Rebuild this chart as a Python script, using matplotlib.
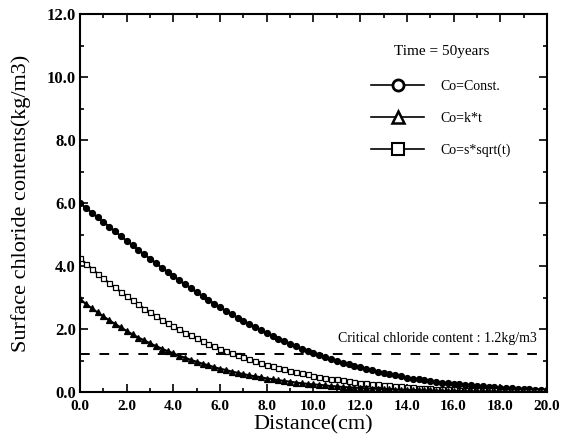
import numpy as np
import matplotlib
matplotlib.use("Agg")
import matplotlib.pyplot as plt
from matplotlib.lines import Line2D

# distance from surface [cm], 0.25 cm step
distance = np.arange(0, 81) * 0.25

# chloride content [kg/m3]
co_const = [
    6.00, 5.85, 5.70, 5.55, 5.40, 5.25, 5.10, 4.95, 4.80,
    4.66, 4.51, 4.37, 4.23, 4.09, 3.95, 3.82, 3.68, 3.55,
    3.42, 3.29, 3.17, 3.04, 2.92, 2.81, 2.69, 2.58, 2.47,
    2.36, 2.26, 2.16, 2.06, 1.97, 1.87, 1.79, 1.70, 1.62,
    1.53, 1.46, 1.38, 1.31, 1.24, 1.17, 1.11, 1.05, 0.99,
    0.93, 0.88, 0.83, 0.78, 0.73, 0.69, 0.64, 0.60, 0.57,
    0.53, 0.50, 0.46, 0.43, 0.40, 0.38, 0.35, 0.32, 0.30,
    0.28, 0.26, 0.24, 0.22, 0.21, 0.19, 0.18, 0.16, 0.15,
    0.14, 0.13, 0.12, 0.11, 0.10, 0.09, 0.08, 0.08, 0.07,
]
co_sqrt = [
    4.25, 4.08, 3.92, 3.76, 3.61, 3.46, 3.32, 3.18, 3.04,
    2.91, 2.78, 2.65, 2.53, 2.42, 2.30, 2.20, 2.09, 1.99,
    1.89, 1.80, 1.71, 1.62, 1.54, 1.46, 1.38, 1.31, 1.23,
    1.17, 1.10, 1.04, 0.98, 0.92, 0.87, 0.82, 0.77, 0.72,
    0.68, 0.64, 0.60, 0.56, 0.52, 0.49, 0.46, 0.43, 0.40,
    0.37, 0.35, 0.32, 0.30, 0.28, 0.26, 0.24, 0.22, 0.21,
    0.19, 0.18, 0.16, 0.15, 0.14, 0.13, 0.12, 0.11, 0.10,
    0.09, 0.09, 0.08, 0.07, 0.07, 0.06, 0.06, 0.05, 0.05,
    0.04, 0.04, 0.04, 0.03, 0.03, 0.03, 0.02, 0.02, 0.02,
]
co_linear = [
    2.95, 2.80, 2.66, 2.53, 2.40, 2.28, 2.16, 2.05, 1.94,
    1.83, 1.73, 1.64, 1.55, 1.46, 1.38, 1.30, 1.23, 1.15,
    1.09, 1.02, 0.96, 0.90, 0.85, 0.79, 0.74, 0.70, 0.65,
    0.61, 0.57, 0.53, 0.50, 0.47, 0.43, 0.41, 0.38, 0.35,
    0.33, 0.30, 0.28, 0.26, 0.24, 0.23, 0.21, 0.19, 0.18,
    0.16, 0.15, 0.14, 0.13, 0.12, 0.11, 0.10, 0.09, 0.09,
    0.08, 0.07, 0.07, 0.06, 0.06, 0.05, 0.05, 0.04, 0.04,
    0.04, 0.03, 0.03, 0.03, 0.02, 0.02, 0.02, 0.02, 0.02,
    0.01, 0.01, 0.01, 0.01, 0.01, 0.01, 0.01, 0.01, 0.01,
]

CRITICAL = 1.2
labels = ["Co=Const.", "Co=k*t", "Co=s*sqrt(t)"]

plt.rcParams["font.family"] = ["Liberation Serif", "DejaVu Serif"]

fig = plt.figure(figsize=(5.61, 4.41), dpi=100)
ax = fig.add_axes([0.1426, 0.111, 0.8324, 0.857])

# curves
ax.plot(distance, co_const, "k-", lw=1.5, marker="o", ms=4.2,
        mfc="k", mec="k", mew=1.0)
ax.plot(distance, co_sqrt, "k-", lw=1.5, marker="s", ms=3.6,
        mfc="white", mec="k", mew=0.9)
ax.plot(distance, co_linear, "k-", lw=1.5, marker="^", ms=3.8,
        mfc="k", mec="k", mew=0.9)

# critical level
ax.plot([0, 20], [CRITICAL, CRITICAL], color="k", lw=1.4,
        linestyle=(0, (5, 5)))
ax.text(19.55, CRITICAL + 0.3, "Critical chloride content : 1.2kg/m3",
        ha="right", va="bottom", fontsize=10)

ax.set_xlim(0, 20)
ax.set_ylim(0, 12)
ax.set_xticks(np.arange(0, 21, 2))
ax.set_xticks(np.arange(1, 20, 2), minor=True)
ax.set_yticks(np.arange(0, 13, 2))
ax.set_yticks(np.arange(1, 12, 2), minor=True)
ax.set_xticklabels([f"{v:.1f}" for v in np.arange(0, 21, 2)])
ax.set_yticklabels([f"{v:.1f}" for v in np.arange(0, 13, 2)])
ax.tick_params(which="both", direction="in", top=True, right=True, width=1.2)
ax.tick_params(which="major", length=6)
ax.tick_params(which="minor", length=3)
ax.tick_params(axis="x", which="major", labelsize=11, pad=6)
ax.tick_params(axis="y", which="major", labelsize=12, pad=3)
for lab in ax.get_xticklabels() + ax.get_yticklabels():
    lab.set_fontweight("bold")
for sp in ax.spines.values():
    sp.set_linewidth(1.5)

ax.set_xlabel("Distance(cm)", fontsize=16, labelpad=1)
ax.set_ylabel("Surface chloride contents(kg/m3)", fontsize=16, labelpad=11)

# legend
handles = [
    Line2D([], [], color="k", lw=1.2, marker="o", ms=8, mfc="white", mew=2),
    Line2D([], [], color="k", lw=1.2, marker="^", ms=8, mfc="white", mew=1.8),
    Line2D([], [], color="k", lw=1.2, marker="s", ms=8, mfc="white", mew=1.5),
]
leg = ax.legend(handles, labels, loc="upper left", bbox_to_anchor=(0.609, 0.937),
                frameon=False, title="Time = 50years", fontsize=10,
                title_fontsize=11, handlelength=3.8, handletextpad=1.2,
                labelspacing=1.35, borderpad=0)
leg._legend_box.sep = 16

fig.savefig("out.png", dpi=100)
